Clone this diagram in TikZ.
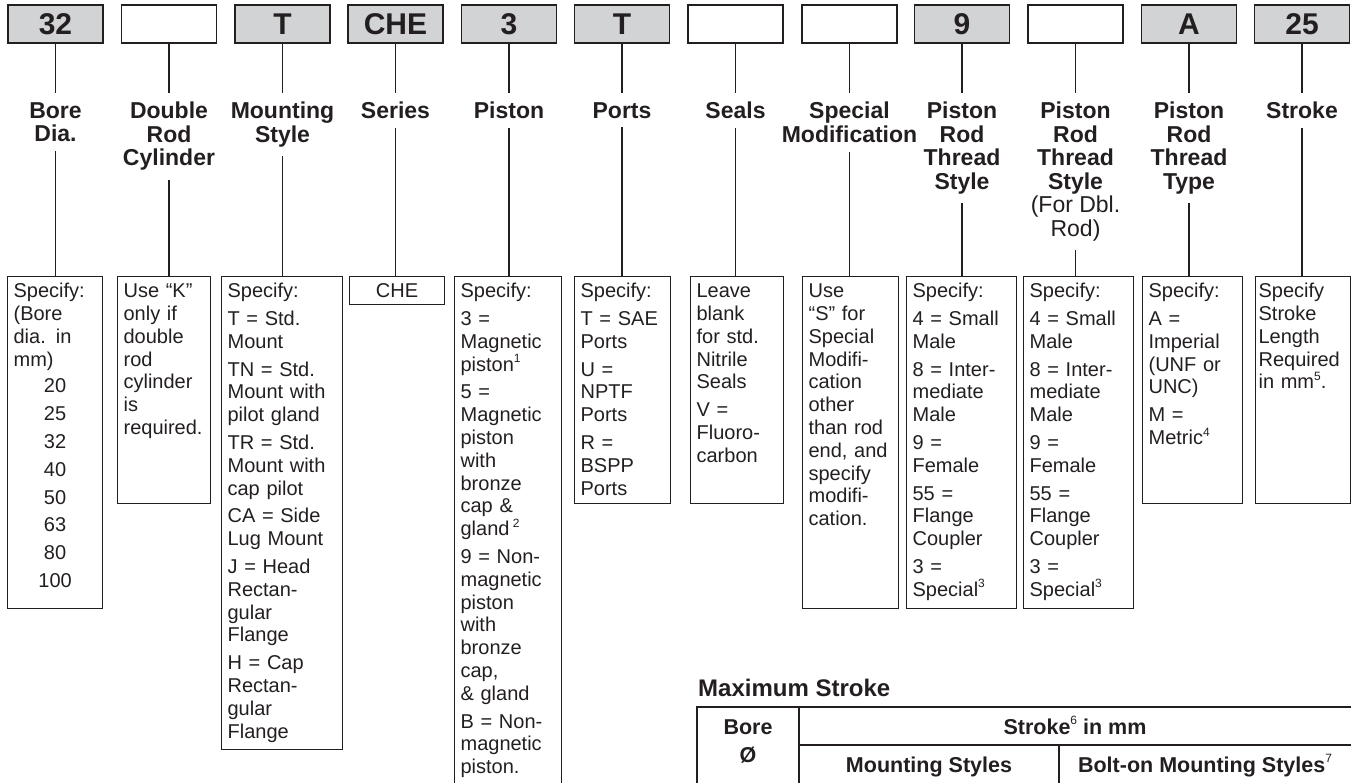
\documentclass[tikz,border=0pt]{standalone}
\usepackage{fontspec}
\setmainfont{Liberation Sans}
\definecolor{ink}{RGB}{35,31,32}
\definecolor{codegray}{RGB}{209,211,212}
\newcommand\note[1]{\raisebox{0.42em}{\mdseries\fontsize{12}{12}\selectfont #1}}
\tikzset{
  codebox/.style={draw=ink,line width=1.8pt,minimum width=95pt,minimum height=38pt,
    inner sep=0pt,text=ink,font=\fontsize{30}{30}\selectfont\bfseries},
  headtext/.style={anchor=north,align=center,inner xsep=0pt,inner ysep=9pt,text=ink,
    font=\fontsize{23}{23.5}\selectfont\bfseries},
  spectext/.style={draw=ink,line width=1.2pt,anchor=north west,align=left,
    inner xsep=6pt,inner ysep=6pt,text height=15pt,text=ink,
    font=\fontsize{20}{22.8}\selectfont},
  wire/.style={draw=ink,line width=1.6pt},
  tabletext/.style={anchor=base,text=ink,inner sep=0pt,font=\fontsize{21.5}{22}\selectfont\bfseries}
}
\begin{document}
\begin{tikzpicture}[x=1pt,y=-1pt]
  \useasboundingbox (0,0) rectangle (1351,782);
  \newcommand\gap{\\[5pt]}
  \newcommand\codecol[5]{
    \node[codebox,fill=#4] at (#2,24) (#1-code) {#3};
    \node[headtext] at (#2,93) (#1-head) {#5};
    \draw[wire] (#1-code) -- (#1-head);
  }
  \newcommand\specbox[6][]{
    \node[spectext,text width=#4pt,text depth=#5pt,#1] at (#3,276) (#2-spec) {#6};
    \draw[wire] (#2-head.south) -- (#2-head.south |- #2-spec.north);
  }
  % code boxes and headings
  \codecol{bore}{55.5}{32}{codegray}{Bore\\Dia.}
  \codecol{dblrod}{169}{}{white}{Double\\Rod\\Cylinder}
  \codecol{mount}{282.5}{T}{codegray}{Mounting\\Style}
  \codecol{series}{395.5}{CHE}{codegray}{Series}
  \codecol{piston}{509}{3}{codegray}{Piston}
  \codecol{ports}{622}{T}{codegray}{Ports}
  \codecol{seals}{735.5}{}{white}{Seals}
  \codecol{special}{849.5}{}{white}{Special\\Modification}
  \codecol{thread}{962}{9}{codegray}{Piston\\Rod\\Thread\\Style}
  \codecol{dblthread}{1075.5}{}{white}{Piston\\Rod\\Thread\\Style\\{\mdseries (For Dbl.}\\{\mdseries Rod)}}
  \codecol{type}{1189}{A}{codegray}{Piston\\Rod\\Thread\\Type}
  \codecol{stroke}{1302}{25}{codegray}{Stroke}
  % option boxes
  \specbox{bore}{7}{83}{305}{Specify:\\(Bore\\dia. in\\mm)\par\vspace{4pt}\centering
    20\gap 25\gap 32\gap 40\gap 50\gap 63\gap 80\gap 100\par}
  \specbox{dblrod}{117}{81}{200}{Use “K”\\only if\\double\\rod\\cylinder\\is\\required.}
  \specbox{mount}{221}{109}{446}{Specify:\gap T = Std.\\Mount\gap TN = Std.\\Mount with\\pilot gland\gap
    TR = Std.\\Mount with\\cap pilot\gap CA = Side\\Lug Mount\gap
    J = Head\\Rectan-\\gular\\Flange\gap H = Cap\\Rectan-\\gular\\Flange}
  \specbox{series}{349}{83}{1}{\centering CHE\par}
  \specbox{piston}{454}{95}{520}{Specify:\gap 3 =\\Magnetic\\piston\note{1}\gap
    5 =\\Magnetic\\piston\\with\\bronze\\cap \&\\gland\,\note{2}\gap
    9 = Non-\\magnetic\\piston\\with\\bronze\\cap,\\\& gland\gap B = Non-\\magnetic\\piston.}
  \specbox{ports}{574}{84}{200}{Specify:\gap T = SAE\\Ports\gap U =\\NPTF\\Ports\gap R =\\BSPP\\Ports}
  \specbox{seals}{690}{81}{200}{Leave\\blank\\for std.\\Nitrile\\Seals\gap V =\\Fluoro-\\carbon}
  \specbox{special}{802}{84}{305}{Use\\“S” for\\Special\\Modifi-\\cation\\other\\than rod\\end, and\\specify\\modifi-\\cation.}
  \specbox{thread}{906}{98}{305}{Specify:\gap 4 = Small\\Male\gap 8 = Inter-\\mediate\\Male\gap
    9 =\\Female\gap 55 =\\Flange\\Coupler\gap 3 =\\Special\note{3}}
  \specbox{dblthread}{1023}{98}{305}{Specify:\gap 4 = Small\\Male\gap 8 = Inter-\\mediate\\Male\gap
    9 =\\Female\gap 55 =\\Flange\\Coupler\gap 3 =\\Special\note{3}}
  \specbox{type}{1142}{88}{200}{Specify:\gap A =\\Imperial\\(UNF or\\UNC)\gap M =\\Metric\note{4}}
  \specbox[inner xsep=3pt]{stroke}{1255}{89}{200}{Specify\\Stroke\\Length\\Required\\in mm\note{5}.}
  % maximum stroke table
  \node[anchor=base west,inner sep=0pt,text=ink,font=\fontsize{24}{24}\selectfont\bfseries]
    at (698,696) (maxtitle) {Maximum Stroke};
  \draw[ink,line width=1.4pt] (697,707) rectangle (1352,800);
  \draw[ink,line width=1.3pt] (799,707) -- (799,800) (799,745) -- (1352,745) (1059,745) -- (1059,800);
  \node[tabletext] at (748,734) (borehead) {Bore};
  \node[tabletext] at (748,762) (borediam) {Ø};
  \node[tabletext] at (1075,734) (strokehead) {Stroke\note{6} in mm};
  \node[tabletext] at (929,772) (mounthead) {Mounting Styles};
  \node[tabletext] at (1205,772) (bolthead) {Bolt-on Mounting Styles\note{7}};
\end{tikzpicture}
\end{document}
